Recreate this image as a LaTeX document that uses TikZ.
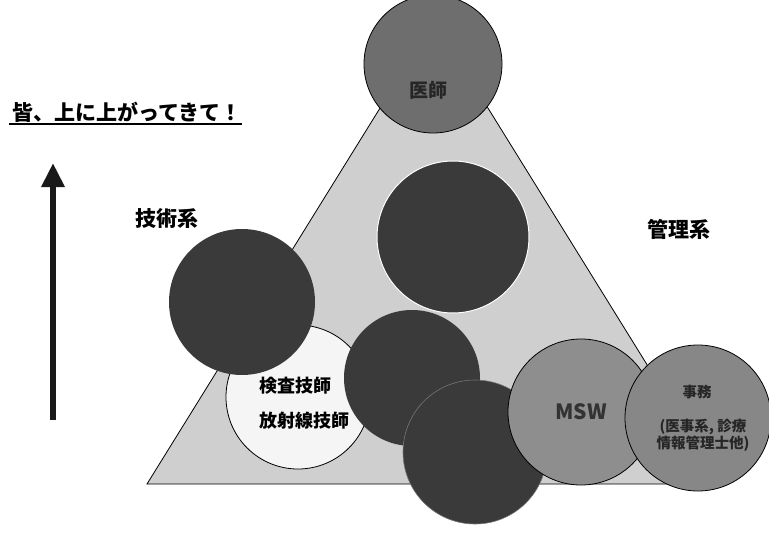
\documentclass[tikz,border=0pt]{standalone}
\usepackage{fontspec}
\setmainfont{Noto Sans CJK JP}
\usetikzlibrary{arrows.meta}
\definecolor{tri}{HTML}{CFCFCF}
\definecolor{topc}{HTML}{6E6E6E}
\definecolor{darkc}{HTML}{3A3A3A}
\definecolor{midc}{HTML}{8E8E8E}
\tikzset{
  ball/.style={circle, inner sep=0pt, minimum size=#1},
  darkball/.style={ball=#1, fill=darkc},
  lbl/.style={font=\bfseries\fontsize{21}{24}\selectfont, inner sep=0pt},
  jimutxt/.style={font=\bfseries\fontsize{14.5}{16}\selectfont, text=black!85, inner sep=0pt},
}
\begin{document}
\begin{tikzpicture}[x=1pt,y=-1pt]
\useasboundingbox (0,0) rectangle (769,533);
\fill[white] (0,0) rectangle (769,533);
% triangle
\coordinate (apex) at (434,21);
\coordinate (bl) at (147,484);
\coordinate (br) at (721,484);
\filldraw[fill=tri, draw=black, line width=0.8pt] (apex) -- (bl) -- (br) -- cycle;
% circles
\node[ball=138, fill=topc, draw=black, line width=0.8pt] (ishi) at (433,64) {};
\node[font=\bfseries\fontsize{19}{22}\selectfont, text=black!85] at (428,90) {医師};
\node[darkball=152, draw=white, line width=1pt] (mid) at (453,237) {};
\node[ball=144, fill=white!96!black, draw=black, line width=0.8pt] (tech) at (298,397) {};
\node[darkball=146] (left) at (242,302) {};
\node[darkball=136] (b1) at (412,378) {};
\node[darkball=144, draw=white!30!darkc, line width=0.6pt] (b2) at (475,452) {};
\node[ball=146, fill=midc, draw=black, line width=0.8pt] (msw) at (581,412) {};
\node[ball=146, fill=midc!95!black, draw=black, line width=0.8pt] (jimu) at (698,418) {};
% texts in circles
\node[font=\bfseries\fontsize{18}{20}\selectfont, anchor=west, inner sep=0pt] at (259,386) {検査技師};
\node[font=\bfseries\fontsize{18}{20}\selectfont, anchor=west, inner sep=0pt] at (259,421) {放射線技師};
\node[font=\bfseries\fontsize{21}{24}\selectfont, text=black!80] at (msw) {MSW};
\node[jimutxt] at (697,392) {事務};
\node[jimutxt] at (703,427) {(医事系, 診療};
\node[jimutxt] at (703,444) {情報管理士他)};
% side labels
\node[lbl] (gijutsu) at (167,219) {技術系};
\node[lbl] (kanri) at (679,229) {管理系};
% title
\node[lbl, anchor=base west] (title) at (12,120) {皆、上に上がってきて！};
\draw[line width=1.6pt] (title.base west) ++(-3,4) coordinate (ul1) -- (ul1 -| title.base east);
% arrow
\coordinate (abot) at (53,420);
\coordinate (atop) at (53,163);
\draw[line width=6pt, -{Triangle[width=22pt,length=24pt]}, draw=black!90, fill=black!90] (abot) -- (atop);
\end{tikzpicture}
\end{document}
